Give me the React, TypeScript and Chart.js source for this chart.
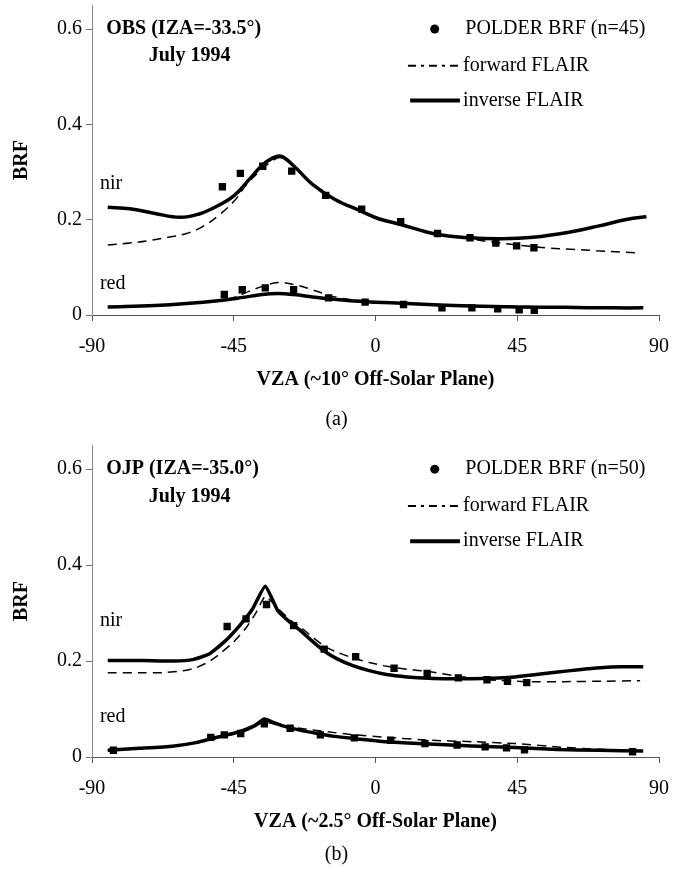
import React, { useEffect, useRef } from 'react';
import { Chart, registerables } from 'chart.js';

Chart.register(...registerables);

const FONT = '"Liberation Serif", "Times New Roman", serif';

// ---------- shared axes ----------
const xTicks = [-90, -45, 0, 45, 90];
const yTicks = [0, 0.2, 0.4, 0.6];

// ---------- panel (a): OBS ----------
const aNirObsX = [-48.6, -42.9, -35.8, -26.6, -15.8, -4.4, 8.0, 19.7, 30.0, 38.2, 44.8, 50.3];
const aNirObsY = [0.269, 0.297, 0.312, 0.302, 0.251, 0.222, 0.196, 0.171, 0.162, 0.151, 0.145, 0.141];
const aRedObsX = [-48.0, -42.3, -35.0, -26.0, -14.9, -3.3, 8.9, 21.1, 30.6, 38.8, 45.6, 50.4];
const aRedObsY = [0.043, 0.053, 0.057, 0.053, 0.036, 0.027, 0.022, 0.015, 0.015, 0.013, 0.011, 0.010];

const aNirInvX = [-85, -78, -70, -62, -56, -51, -45, -40, -36, -33, -30, -26, -20, -13, -5, 1, 8, 19, 30, 40, 50, 61, 71, 80, 86];
const aNirInvY = [0.226, 0.223, 0.213, 0.205, 0.212, 0.226, 0.250, 0.285, 0.314, 0.328, 0.333, 0.313, 0.274, 0.243, 0.219, 0.202, 0.190, 0.170, 0.162, 0.160, 0.163, 0.173, 0.187, 0.201, 0.206];
const aNirFwdX = [-85, -78, -71, -65, -60, -55, -50, -45, -41, -37, -33, -30, -26, -20, -13, -5, 1, 8, 19, 30, 37, 45, 54, 62, 70, 78, 84];
const aNirFwdY = [0.147, 0.151, 0.157, 0.164, 0.171, 0.185, 0.208, 0.238, 0.273, 0.300, 0.322, 0.330, 0.313, 0.274, 0.243, 0.219, 0.202, 0.190, 0.170, 0.160, 0.153, 0.147, 0.141, 0.138, 0.135, 0.132, 0.130];
const aRedInvX = [-85, -70, -60, -50, -42, -36, -31, -26, -20, -15, -8, 0, 10, 20, 30, 45, 60, 75, 85];
const aRedInvY = [0.017, 0.020, 0.024, 0.030, 0.037, 0.043, 0.045, 0.043, 0.038, 0.034, 0.030, 0.027, 0.024, 0.021, 0.019, 0.017, 0.016, 0.015, 0.015];
const aRedFwdX = [-85, -70, -60, -50, -45, -40, -35, -31, -26, -21, -16, -10, 0, 10, 20, 30, 45, 60, 75, 85];
const aRedFwdY = [0.017, 0.020, 0.024, 0.030, 0.037, 0.050, 0.062, 0.068, 0.064, 0.055, 0.044, 0.034, 0.028, 0.025, 0.022, 0.020, 0.018, 0.017, 0.016, 0.016];

// ---------- panel (b): OJP ----------
const bNirObsX = [-47.1, -41.1, -34.6, -26.0, -16.3, -6.3, 5.9, 16.4, 26.3, 35.4, 41.9, 48.0];
const bNirObsY = [0.272, 0.288, 0.318, 0.274, 0.225, 0.209, 0.185, 0.174, 0.165, 0.161, 0.158, 0.155];
const bRedObsX = [-83.2, -52.3, -48.0, -42.8, -35.3, -27.1, -17.5, -6.7, 4.8, 15.7, 25.9, 34.8, 41.6, 47.3, 81.6];
const bRedObsY = [0.014, 0.041, 0.046, 0.049, 0.069, 0.060, 0.046, 0.040, 0.035, 0.028, 0.025, 0.021, 0.019, 0.015, 0.011];

const bNirInvX = [-85, -74, -64, -58, -53, -48, -43, -39, -35, -31, -27, -23.7, -20, -16.3, -12, -7.4, -2, 3.5, 10, 17, 24, 30.6, 37, 44.2, 51, 57.8, 64.6, 71.4, 78, 85];
const bNirInvY = [0.201, 0.201, 0.200, 0.203, 0.214, 0.240, 0.275, 0.309, 0.356, 0.305, 0.280, 0.263, 0.241, 0.221, 0.204, 0.191, 0.180, 0.172, 0.167, 0.164, 0.163, 0.163, 0.164, 0.167, 0.172, 0.177, 0.182, 0.186, 0.188, 0.188];
const bNirFwdX = [-85, -75, -67, -61, -57, -53, -50, -45, -41, -38, -35, -31, -27, -23.7, -20, -16, -12, -7.4, -2, 3.5, 10, 17, 26.6, 35.4, 48, 60, 72, 84];
const bNirFwdY = [0.1755, 0.1755, 0.176, 0.180, 0.186, 0.198, 0.212, 0.240, 0.270, 0.300, 0.335, 0.310, 0.285, 0.270, 0.250, 0.230, 0.218, 0.207, 0.197, 0.189, 0.183, 0.178, 0.168, 0.161, 0.157, 0.157, 0.158, 0.159];
const bRedInvX = [-85, -75, -64.5, -57, -51, -46, -42.7, -38.5, -35.3, -32, -29.4, -24, -18.5, -13, -7.4, 3.5, 17, 30.6, 44.2, 57.8, 71, 85];
const bRedInvY = [0.014, 0.018, 0.0225, 0.030, 0.040, 0.048, 0.054, 0.065, 0.079, 0.071, 0.065, 0.056, 0.049, 0.043, 0.039, 0.032, 0.027, 0.023, 0.020, 0.0155, 0.014, 0.0125];
const bRedFwdX = [-85, -75, -64.5, -57, -51, -46, -42, -38.5, -35.3, -32, -28, -23, -15.8, -8, 3.5, 17, 30.6, 44.2, 57.8, 71, 84];
const bRedFwdY = [0.014, 0.018, 0.022, 0.029, 0.038, 0.046, 0.052, 0.062, 0.074, 0.068, 0.064, 0.059, 0.053, 0.047, 0.041, 0.035, 0.032, 0.028, 0.021, 0.016, 0.0126];

const zip = (xs: number[], ys: number[]) => xs.map((x, i) => ({ x, y: ys[i] }));

interface Panel {
  site: string;
  n: number;
  xTitle: string;
  caption: string;
  nirObs: [number[], number[]];
  redObs: [number[], number[]];
  nirInv: [number[], number[]];
  redInv: [number[], number[]];
  nirFwd: [number[], number[]];
  redFwd: [number[], number[]];
  nirLabelY: number;
  redLabelY: number;
  tension: number;
  height: number;
  padTop: number;
  padBottom: number;
  top: number;
}

const panels: Panel[] = [
  {
    site: 'OBS (IZA=-33.5°)', n: 45, xTitle: 'VZA (~10° Off-Solar Plane)', caption: '(a)',
    nirObs: [aNirObsX, aNirObsY], redObs: [aRedObsX, aRedObsY],
    nirInv: [aNirInvX, aNirInvY], redInv: [aRedInvX, aRedInvY],
    nirFwd: [aNirFwdX, aNirFwdY], redFwd: [aRedFwdX, aRedFwdY],
    nirLabelY: 0.275, redLabelY: 0.066, tension: 0.4,
    height: 440, padTop: 3, padBottom: 48, top: 0,
  },
  {
    site: 'OJP (IZA=-35.0°)', n: 50, xTitle: 'VZA (~2.5° Off-Solar Plane)', caption: '(b)',
    nirObs: [bNirObsX, bNirObsY], redObs: [bRedObsX, bRedObsY],
    nirInv: [bNirInvX, bNirInvY], redInv: [bRedInvX, bRedInvY],
    nirFwd: [bNirFwdX, bNirFwdY], redFwd: [bRedFwdX, bRedFwdY],
    nirLabelY: 0.283, redLabelY: 0.084, tension: 0.15,
    height: 429, padTop: 5, padBottom: 35, top: 440,
  },
];

function makeTextPlugin(p: Panel) {
  return {
    id: 'figText' + p.caption,
    afterDatasetsDraw(chart: any) {
      const ctx = chart.ctx as CanvasRenderingContext2D;
      const xs = chart.scales.x;
      const ys = chart.scales.y;
      const px = (v: number) => xs.getPixelForValue(v);
      const py = (v: number) => ys.getPixelForValue(v);
      ctx.save();
      ctx.fillStyle = '#000';
      ctx.strokeStyle = '#000';
      ctx.textBaseline = 'middle';
      ctx.textAlign = 'left';
      ctx.font = `bold 20px ${FONT}`;
      ctx.fillText(p.site, px(-85.5), py(0.6));
      ctx.fillText('July 1994', px(-72), py(0.543));
      ctx.font = `20px ${FONT}`;
      ctx.fillText('nir', px(-87.5), py(p.nirLabelY));
      ctx.fillText('red', px(-87.5), py(p.redLabelY));
      // legend
      ctx.beginPath();
      ctx.arc(px(18.8), py(0.6), 4.5, 0, Math.PI * 2);
      ctx.fill();
      ctx.fillText(`POLDER BRF (n=${p.n})`, px(28.5), py(0.6));
      ctx.lineWidth = 2;
      ctx.setLineDash([8, 5, 3, 5]);
      ctx.beginPath();
      ctx.moveTo(px(10.3), py(0.523));
      ctx.lineTo(px(26.5), py(0.523));
      ctx.stroke();
      ctx.setLineDash([]);
      ctx.fillText('forward FLAIR', px(27.8), py(0.523));
      ctx.lineWidth = 4;
      ctx.beginPath();
      ctx.moveTo(px(11), py(0.45));
      ctx.lineTo(px(26.8), py(0.45));
      ctx.stroke();
      ctx.fillText('inverse FLAIR', px(27.8), py(0.45));
      ctx.restore();
    },
  };
}

function PanelChart({ p }: { p: Panel }) {
  const ref = useRef<HTMLCanvasElement>(null);
  useEffect(() => {
    if (!ref.current) return;
    const lineBase = { showLine: true, pointRadius: 0, borderColor: '#000', backgroundColor: '#000', tension: p.tension };
    const inv = { ...lineBase, borderWidth: 3.5 };
    const fwd = { ...lineBase, borderWidth: 1.5, borderDash: [9, 6] };
    const pts = { showLine: false, pointStyle: 'rect', pointRadius: 5.2, borderWidth: 0, backgroundColor: '#000', borderColor: '#000' };
    const chart = new Chart(ref.current, {
      type: 'scatter',
      data: {
        datasets: [
          { label: 'inverse FLAIR nir', data: zip(...p.nirInv), ...inv },
          { label: 'inverse FLAIR red', data: zip(...p.redInv), ...inv },
          { label: 'forward FLAIR nir', data: zip(...p.nirFwd), ...fwd },
          { label: 'forward FLAIR red', data: zip(...p.redFwd), ...fwd },
          { label: 'POLDER nir', data: zip(...p.nirObs), ...pts },
          { label: 'POLDER red', data: zip(...p.redObs), ...pts },
        ] as any,
      },
      options: {
        animation: false,
        responsive: false,
        maintainAspectRatio: false,
        layout: { padding: { top: p.padTop, bottom: p.padBottom, left: 0, right: 14 } },
        plugins: { legend: { display: false }, tooltip: { enabled: false } },
        scales: {
          x: {
            type: 'linear',
            min: -90,
            max: 90,
            afterBuildTicks: (axis: any) => { axis.ticks = xTicks.map((v) => ({ value: v })); },
            afterFit: (s: any) => { s.height = 77; s.paddingLeft = 0; s.paddingRight = 0; },
            ticks: { color: '#000', font: { family: FONT, size: 20 }, padding: 14, maxRotation: 0, callback: (v: any) => String(v) },
            grid: { display: true, drawOnChartArea: false, drawTicks: true, tickLength: 6, color: '#555' },
            border: { display: true, color: '#555', width: 1 },
            title: { display: true, text: p.xTitle, color: '#000', font: { family: FONT, size: 20, weight: 'bold' }, padding: { top: 0, bottom: 0 } },
          },
          y: {
            type: 'linear',
            min: 0,
            max: 0.65,
            afterBuildTicks: (axis: any) => { axis.ticks = yTicks.map((v) => ({ value: v })); },
            afterFit: (s: any) => { s.width = 92; s.paddingTop = 0; s.paddingBottom = 0; },
            ticks: { color: '#000', font: { family: FONT, size: 20 }, padding: 4, callback: (v: any) => (v === 0 ? '0' : Number(v).toFixed(1)) },
            grid: { display: true, drawOnChartArea: false, drawTicks: true, tickLength: 6, color: '#777' },
            border: { display: true, color: '#888', width: 1 },
            title: { display: true, text: 'BRF', color: '#000', font: { family: FONT, size: 20, weight: 'bold' }, padding: { top: 10, bottom: 0 } },
          },
        },
      } as any,
      plugins: [makeTextPlugin(p)],
    });
    return () => chart.destroy();
  }, [p]);
  return (
    <canvas
      ref={ref}
      width={673}
      height={p.height}
      style={{ position: 'absolute', left: 0, top: p.top, width: 673, height: p.height }}
    />
  );
}

export default function App() {
  useEffect(() => {
    document.body.style.margin = '0';
  }, []);
  return (
    <div style={{ position: 'relative', width: 673, height: 869, background: '#fff', overflow: 'hidden' }}>
      {panels.map((p) => (
        <PanelChart key={p.caption} p={p} />
      ))}
      <div style={{ position: 'absolute', left: 0, width: 673, top: 406, textAlign: 'center', font: `20px ${FONT}`, lineHeight: '24px' }}>(a)</div>
      <div style={{ position: 'absolute', left: 0, width: 673, top: 841, textAlign: 'center', font: `20px ${FONT}`, lineHeight: '24px' }}>(b)</div>
    </div>
  );
}
